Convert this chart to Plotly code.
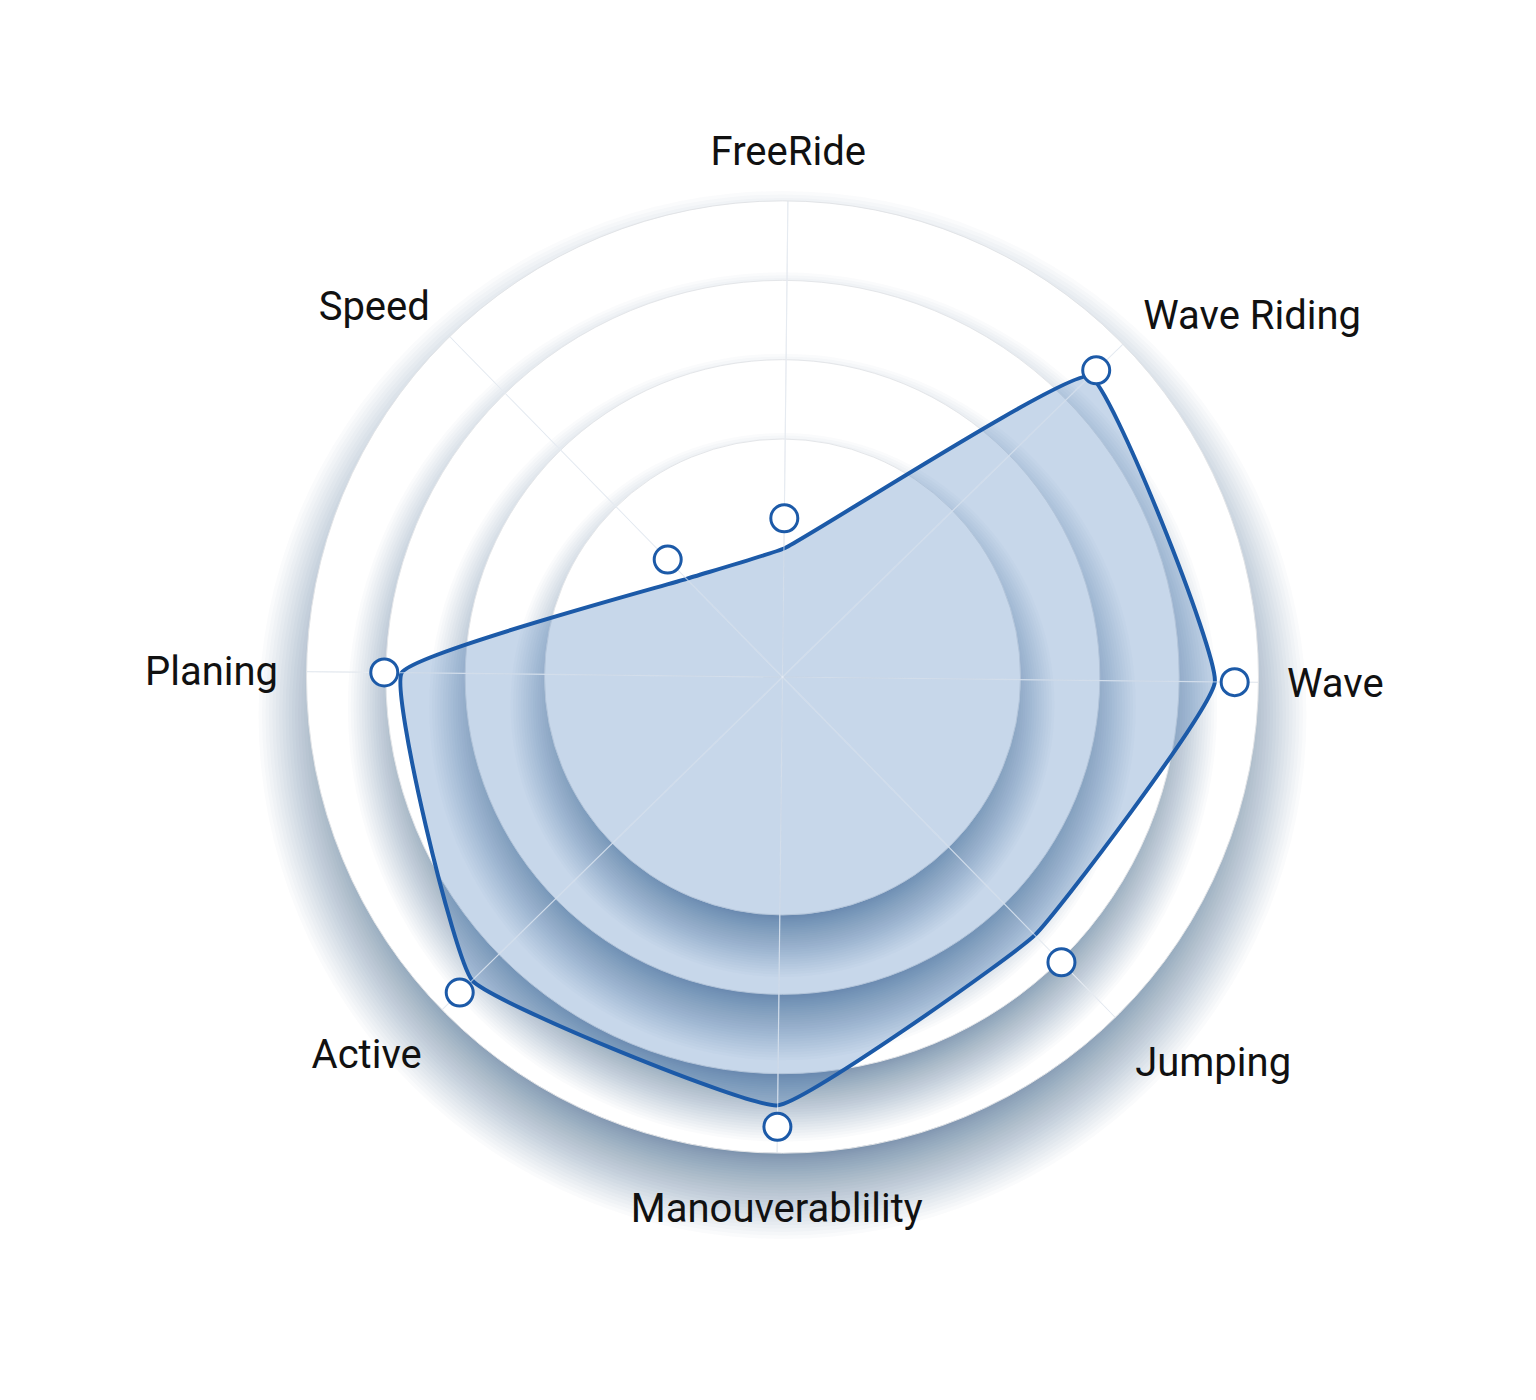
import plotly.graph_objects as go

# ---------------- data ----------------
categories = ["FreeRide", "Wave Riding", "Wave", "Jumping",
              "Manouverablility", "Active", "Planing", "Speed"]
area_values = [1.62, 5.42, 5.45, 4.55, 5.40, 5.47, 4.80, 1.73]
marker_values = [2.00, 5.53, 5.70, 5.03, 5.67, 5.69, 5.02, 2.07]
grid_levels = [3, 4, 5]
disc_levels = [6, 5, 4, 3]
radial_max = 6

# ---------------- layout constants ----------------
W, H = 1520, 1384
dom_x = [0.19638, 0.82270]
dom_y = [0.17269, 0.86055]
cx = W * (dom_x[0] + dom_x[1]) / 2
cy = H * (1 - (dom_y[0] + dom_y[1]) / 2)
R = min(W * (dom_x[1] - dom_x[0]), H * (dom_y[1] - dom_y[0])) / 2

LINE_BLUE = "#1c5aa8"


def circle(px, py, r, **kw):
    return dict(type="circle", xref="paper", yref="paper",
                x0=(px - r) / W, x1=(px + r) / W,
                y0=1 - (py + r) / H, y1=1 - (py - r) / H,
                layer="below", **kw)


# stacked white discs, each with a soft drop shadow falling downward
shapes = []
# level: (offset down, inner spread, outer spread, per-layer alpha)
shadow_style = {6: (38, 36, 48, 0.020), 5: (30, 30, 38, 0.019),
                4: (30, 30, 36, 0.019), 3: (28, 28, 34, 0.019)}
SH_N = 32
for lvl in disc_levels:
    r = R * lvl / radial_max
    dy, s_in, s_out, a = shadow_style[lvl]
    for k in range(SH_N):
        s = -s_in + (s_in + s_out) * (k / (SH_N - 1)) ** 1.3
        shapes.append(circle(cx, cy + dy, r + s, line=dict(width=0),
                             fillcolor=f"rgba(20,64,116,{a})"))
    shapes.append(circle(cx, cy, r, line=dict(width=0), fillcolor="white"))

# rotate so the closed outline starts at a nearly straight vertex (Speed)
start = len(categories) - 1
loop_theta = categories[start:] + categories[:start] + [categories[start]]
loop_r = area_values[start:] + area_values[:start] + [area_values[start]]

fig = go.Figure()

fig.add_trace(go.Scatterpolar(
    r=loop_r, theta=loop_theta, mode="lines",
    line=dict(color=LINE_BLUE, width=4, shape="spline", smoothing=0.3),
    fill="toself", fillcolor="rgba(30,95,170,0.25)",
    hoverinfo="skip", showlegend=False,
))

# light spokes drawn on top of the filled area
for c in categories:
    fig.add_trace(go.Scatterpolar(
        r=[0, radial_max], theta=[c, c], mode="lines",
        line=dict(color="rgba(232,238,246,0.6)", width=1.2),
        hoverinfo="skip", showlegend=False,
    ))

fig.add_trace(go.Scatterpolar(
    r=marker_values, theta=categories, mode="markers",
    marker=dict(size=27, color="white", line=dict(color=LINE_BLUE, width=3)),
    showlegend=False,
))

fig.update_layout(
    width=W, height=H,
    margin=dict(l=0, r=0, t=0, b=0),
    paper_bgcolor="white",
    plot_bgcolor="white",
    shapes=shapes,
    showlegend=False,
    polar=dict(
        domain=dict(x=dom_x, y=dom_y),
        bgcolor="rgba(0,0,0,0)",
        radialaxis=dict(
            range=[0, radial_max], tickvals=grid_levels,
            showticklabels=False, ticks="", showline=False,
            gridcolor="#e4e6e9", gridwidth=1,
        ),
        angularaxis=dict(
            type="category", categoryorder="array", categoryarray=categories,
            direction="clockwise", rotation=89.35,
            showline=True, linecolor="#e2e4e7", linewidth=1,
            gridcolor="#e2e4e7", gridwidth=1,
            ticks="outside", ticklen=20, tickcolor="rgba(0,0,0,0)",
            tickfont=dict(family="Roboto", size=40, color="#111111"),
        ),
    ),
)

fig.write_html("out.html", config={"displayModeBar": False})
